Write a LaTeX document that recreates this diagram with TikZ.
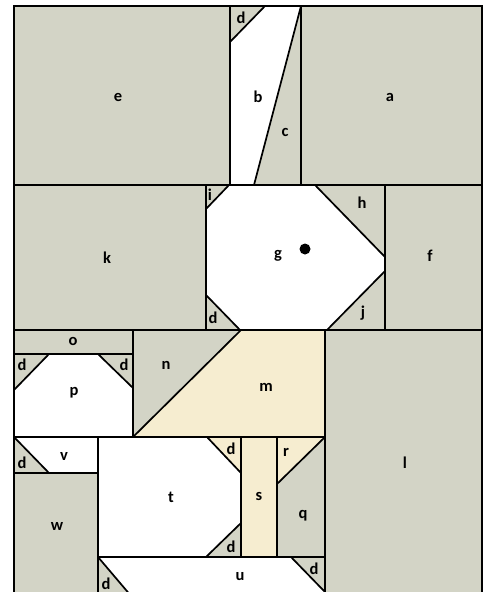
\documentclass[tikz,border=0pt]{standalone}
\usepackage{fontspec}
\setmainfont{Carlito}
\definecolor{gr}{RGB}{211,212,198}
\definecolor{cr}{RGB}{246,237,208}
\begin{document}
\begin{tikzpicture}[x=1pt,y=-1pt,
  ln/.style={line width=1.7pt,line join=miter},
  lab/.style={font=\fontsize{16.5}{19}\selectfont\bfseries,inner sep=0pt}]
\useasboundingbox (0,0) rectangle (487,592);
\clip (0,0) rectangle (487,592);
\fill[white] (0,0) rectangle (487,592);
% base gray
\fill[gr] (14,6) rectangle (482,610);
% white pieces
\fill[white] (230,42) -- (265,6) -- (301,6) -- (254,185) -- (230,185) -- cycle;
\fill[white] (229,185) -- (315,185) -- (385,257) -- (385,271) -- (327,330) -- (240,330) -- (206,295) -- (206,209) -- cycle;
\fill[white] (49,354) -- (98,354) -- (133,388) -- (133,437) -- (14,437) -- (14,390) -- cycle;
\fill[white] (14,437) -- (98,437) -- (98,473) -- (49,473) -- cycle;
\fill[white] (98,437) -- (207,437) -- (241,473) -- (241,523) -- (206,557) -- (98,557) -- cycle;
\fill[white] (98,557) -- (291,557) -- (325,592) -- (325,610) -- (143,610) -- cycle;
% cream pieces
\fill[cr] (241,330) -- (325,330) -- (325,437) -- (133,437) -- cycle;
\fill[cr] (241,437) rectangle (277,557);
\fill[cr] (277,437) -- (325,437) -- (277,484) -- cycle;
\fill[cr] (207,437) -- (241,437) -- (241,473) -- cycle;
% outlines
\draw[ln] (14,610) -- (14,6) -- (482,6) -- (482,610);
\draw[ln] (14,185) -- (482,185);
\draw[ln] (230,6) -- (230,185);
\draw[ln] (301,6) -- (301,185);
\draw[ln] (265,6) -- (230,42);
\draw[ln] (301,6) -- (254,185);
\draw[ln] (229,185) -- (315,185) -- (385,257) -- (385,271) -- (327,330) -- (240,330) -- (206,295) -- (206,209) -- cycle;
\draw[ln] (206,185) -- (206,330);
\draw[ln] (385,185) -- (385,330);
\draw[ln] (14,330) -- (482,330);
\draw[ln] (14,354) -- (133,354);
\draw[ln] (133,330) -- (133,437);
\draw[ln] (241,330) -- (133,437);
\draw[ln] (325,330) -- (325,610);
\draw[ln] (49,354) -- (14,390);
\draw[ln] (98,354) -- (133,388);
\draw[ln] (14,437) -- (325,437);
\draw[ln] (14,437) -- (49,473);
\draw[ln] (14,473) -- (98,473);
\draw[ln] (98,437) -- (98,610);
\draw[ln] (207,437) -- (241,473);
\draw[ln] (241,523) -- (206,557);
\draw[ln] (241,437) -- (241,557);
\draw[ln] (277,437) -- (277,557);
\draw[ln] (325,437) -- (277,484);
\draw[ln] (98,557) -- (325,557);
\draw[ln] (98,557) -- (143,610);
\draw[ln] (291,557) -- (325,592);
% dot
\fill (305,249) circle (5.5);
% labels
\node[lab] (le) at (118,97) {e};
\node[lab] (lb) at (258,97) {b};
\node[lab] (lc) at (285,132) {c};
\node[lab] (la) at (390,97) {a};
\node[lab] (ld1) at (241,18) {d};
\node[lab] (lk) at (107,258) {k};
\node[lab] (li) at (210,195) {i};
\node[lab] (lg) at (278,256) {g};
\node[lab] (lh) at (362,203) {h};
\node[lab] (lj) at (363,313) {j};
\node[lab] (lf) at (430,256) {f};
\node[lab] (ld2) at (213,318) {d};
\node[lab] (lo) at (73,341) {o};
\node[lab] (ld3) at (22,365) {d};
\node[lab] (ld4) at (124,365) {d};
\node[lab] (lp) at (74,393) {p};
\node[lab] (ln) at (166,365) {n};
\node[lab] (lm) at (266,387) {m};
\node[lab] (ll) at (405,463) {l};
\node[lab] (lv) at (64,456) {v};
\node[lab] (ld5) at (22,463) {d};
\node[lab] (lw) at (57,526) {w};
\node[lab] (lt) at (171,497) {t};
\node[lab] (ld6) at (231,449) {d};
\node[lab] (ld7) at (231,547) {d};
\node[lab] (ls) at (259,496) {s};
\node[lab] (lr) at (286,452) {r};
\node[lab] (lq) at (303,516) {q};
\node[lab] (lu) at (240,577) {u};
\node[lab] (ld8) at (106,584) {d};
\node[lab] (ld9) at (314,569) {d};
\end{tikzpicture}
\end{document}
